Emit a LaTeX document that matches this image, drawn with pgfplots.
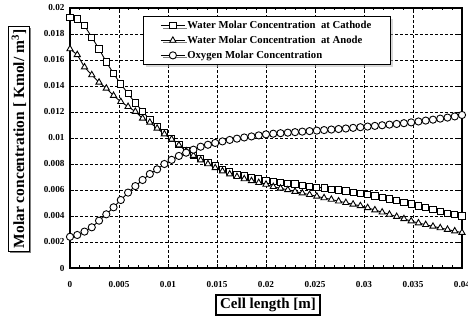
\documentclass[border=0pt]{standalone}
\usepackage{fontspec}
\setmainfont{Liberation Serif}
\usepackage{pgfplots}
\pgfplotsset{compat=1.18}
\usetikzlibrary{shadows}

\begin{document}
\begin{tikzpicture}
\begin{axis}[
  name=ax,
  scale only axis,
  width=392pt, height=260pt,
  xmin=0, xmax=0.04, ymin=0, ymax=0.02,
  xtick={0,0.005,0.01,0.015,0.02,0.025,0.03,0.035,0.04},
  xticklabels={0,0.005,0.01,0.015,0.02,0.025,0.03,0.035,0.04},
  ytick={0,0.002,0.004,0.006,0.008,0.01,0.012,0.014,0.016,0.018,0.02},
  yticklabels={0,0.002,0.004,0.006,0.008,0.01,0.012,0.014,0.016,0.018,0.02},
  scaled ticks=false,
  minor x tick num=4,
  tick align=inside,
  major tick length=4pt, minor tick length=2.5pt,
  tick style={black, line width=0.8pt},
  grid=major,
  grid style={black, line width=0.6pt, dash pattern=on 3pt off 2pt},
  axis line style={line width=2.6pt},
  tick label style={font=\bfseries\fontsize{9.2}{10}\selectfont},
  /pgf/number format/assume math mode=true,
  xticklabel style={yshift=-10pt},
  yticklabel style={xshift=-2pt},
  legend style={at={(rel axis cs:0.186,0.969)}, anchor=north west,
    draw=black, line width=1pt, fill=white,
    font=\bfseries\fontsize{10.7}{12}\selectfont,
    row sep=2pt, inner xsep=17pt, inner ysep=2.5pt,
    drop shadow={shadow xshift=2.5pt, shadow yshift=-2.5pt, fill=gray!60}},
  legend cell align=left,
  legend image code/.code={\draw[mark repeat=2,mark phase=2,#1] plot coordinates {(0pt,0pt) (12pt,0pt) (24pt,0pt)};},
]
% Water at cathode
\addplot[black, line width=0.9pt, mark=square*, mark size=3.1pt, mark options={fill=white, solid, line width=0.9pt}] coordinates {
(0.000000,0.01930)(0.000741,0.01915)(0.001481,0.01865)(0.002222,0.01775)(0.002963,0.01685)
(0.003704,0.01585)(0.004444,0.01495)(0.005185,0.01415)(0.005926,0.01340)(0.006667,0.01270)
(0.007407,0.01205)(0.008148,0.01140)(0.008889,0.01090)(0.009630,0.01040)(0.010370,0.00995)
(0.011111,0.00950)(0.011852,0.00905)(0.012593,0.00870)(0.013333,0.00840)(0.014074,0.00810)
(0.014815,0.00785)(0.015556,0.00760)(0.016296,0.00740)(0.017037,0.00722)(0.017778,0.00708)
(0.018519,0.00695)(0.019259,0.00685)(0.020000,0.00676)(0.020741,0.00668)(0.021481,0.00660)
(0.022222,0.00653)(0.022963,0.00646)(0.023704,0.00638)(0.024444,0.00630)(0.025185,0.00622)
(0.025926,0.00615)(0.026667,0.00607)(0.027407,0.00600)(0.028148,0.00592)(0.028889,0.00583)
(0.029630,0.00574)(0.030370,0.00565)(0.031111,0.00554)(0.031852,0.00543)(0.032593,0.00531)
(0.033333,0.00518)(0.034074,0.00505)(0.034815,0.00492)(0.035556,0.00478)(0.036296,0.00464)
(0.037037,0.00450)(0.037778,0.00436)(0.038519,0.00422)(0.039259,0.00410)(0.040000,0.00400)
};
\addlegendentry{Water Molar Concentration\ \ at Cathode}
% Water at anode
\addplot[black, line width=0.9pt, mark=triangle*, mark size=3.6pt, mark options={fill=white, solid, line width=0.9pt}] coordinates {
(0.000000,0.01685)(0.000741,0.01640)(0.001481,0.01545)(0.002222,0.01485)(0.002963,0.01428)
(0.003704,0.01382)(0.004444,0.01326)(0.005185,0.01279)(0.005926,0.01241)(0.006667,0.01203)
(0.007407,0.01151)(0.008148,0.01120)(0.008889,0.01074)(0.009630,0.01030)(0.010370,0.00990)
(0.011111,0.00945)(0.011852,0.00900)(0.012593,0.00865)(0.013333,0.00830)(0.014074,0.00800)
(0.014815,0.00770)(0.015556,0.00745)(0.016296,0.00722)(0.017037,0.00702)(0.017778,0.00685)
(0.018519,0.00670)(0.019259,0.00656)(0.020000,0.00643)(0.020741,0.00625)(0.021481,0.00613)
(0.022222,0.00601)(0.022963,0.00588)(0.023704,0.00576)(0.024444,0.00564)(0.025185,0.00551)
(0.025926,0.00539)(0.026667,0.00527)(0.027407,0.00514)(0.028148,0.00502)(0.028889,0.00490)
(0.029630,0.00478)(0.030370,0.00463)(0.031111,0.00446)(0.031852,0.00429)(0.032593,0.00412)
(0.033333,0.00395)(0.034074,0.00378)(0.034815,0.00361)(0.035556,0.00346)(0.036296,0.00333)
(0.037037,0.00320)(0.037778,0.00308)(0.038519,0.00296)(0.039259,0.00284)(0.040000,0.00272)
};
\addlegendentry{Water Molar Concentration\ \ at Anode}
% Oxygen
\addplot[black, line width=0.9pt, mark=*, mark size=3.6pt, mark options={fill=white, solid, line width=0.9pt}] coordinates {
(0.000000,0.00240)(0.000741,0.00254)(0.001481,0.00280)(0.002222,0.00313)(0.002963,0.00364)
(0.003704,0.00413)(0.004444,0.00467)(0.005185,0.00523)(0.005926,0.00580)(0.006667,0.00630)
(0.007407,0.00677)(0.008148,0.00723)(0.008889,0.00759)(0.009630,0.00800)(0.010370,0.00832)
(0.011111,0.00862)(0.011852,0.00887)(0.012593,0.00910)(0.013333,0.00933)(0.014074,0.00948)
(0.014815,0.00962)(0.015556,0.00974)(0.016296,0.00985)(0.017037,0.00995)(0.017778,0.01004)
(0.018519,0.01012)(0.019259,0.01020)(0.020000,0.01028)(0.020741,0.01033)(0.021481,0.01037)
(0.022222,0.01041)(0.022963,0.01045)(0.023704,0.01049)(0.024444,0.01053)(0.025185,0.01057)
(0.025926,0.01061)(0.026667,0.01065)(0.027407,0.01069)(0.028148,0.01073)(0.028889,0.01078)
(0.029630,0.01083)(0.030370,0.01088)(0.031111,0.01093)(0.031852,0.01098)(0.032593,0.01103)
(0.033333,0.01108)(0.034074,0.01114)(0.034815,0.01120)(0.035556,0.01127)(0.036296,0.01134)
(0.037037,0.01141)(0.037778,0.01149)(0.038519,0.01157)(0.039259,0.01166)(0.040000,0.01177)
};
\addlegendentry{Oxygen Molar Concentration}
\end{axis}
\node[draw=black, line width=1.3pt, fill=white, inner xsep=4pt, inner ysep=3pt,
  drop shadow={shadow xshift=1.5pt, shadow yshift=-1.5pt, fill=black},
  font=\bfseries\fontsize{15}{17}\selectfont]
  at ([xshift=2pt,yshift=-37pt]ax.south) {Cell length [m]};
\node[draw=black, line width=1.3pt, fill=white, inner xsep=3pt, inner ysep=3pt, rotate=90,
  drop shadow={shadow xshift=1.5pt, shadow yshift=-1.5pt, fill=black},
  font=\bfseries\fontsize{15.5}{17}\selectfont]
  at ([xshift=-51pt,yshift=-1pt]ax.west) {Molar concentration [ Kmol/ m\textsuperscript{3}]};
\pgfresetboundingbox
\path ([xshift=-70pt,yshift=-57pt]ax.south west) rectangle ([xshift=6pt,yshift=8pt]ax.north east);
\end{tikzpicture}
\end{document}
